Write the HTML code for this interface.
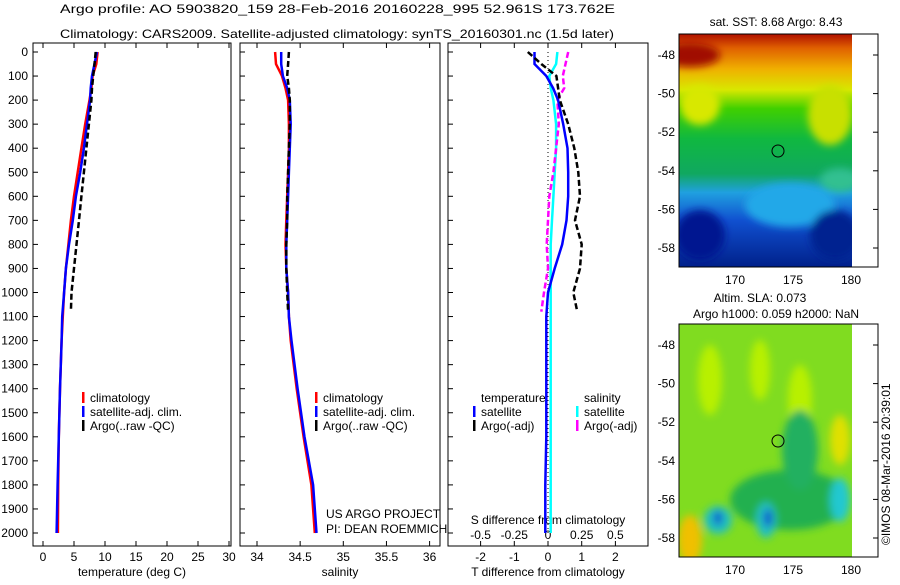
<!DOCTYPE html>
<html><head><meta charset="utf-8"><style>
body{margin:0;background:#fff;}
svg text{font-family:"Liberation Sans",sans-serif;font-size:12px;fill:#000;}
</style></head><body>
<svg id="fig" width="900" height="580" viewBox="0 0 900 580" xmlns="http://www.w3.org/2000/svg">
<defs>
<filter id="blur" x="-20%" y="-20%" width="140%" height="140%"><feGaussianBlur stdDeviation="4"/></filter>
<clipPath id="c1"><rect x="679" y="34" width="173" height="233"/></clipPath>
<clipPath id="c2"><rect x="679" y="324" width="173" height="233"/></clipPath>
<linearGradient id="sst" x1="0" y1="0" x2="0" y2="1">
<stop offset="0" stop-color="#b01000"/><stop offset="0.06" stop-color="#e06000"/><stop offset="0.15" stop-color="#f0b000"/><stop offset="0.24" stop-color="#d8e800"/><stop offset="0.32" stop-color="#40d000"/><stop offset="0.45" stop-color="#10b840"/><stop offset="0.6" stop-color="#10a860"/><stop offset="0.68" stop-color="#20a0e0"/><stop offset="0.8" stop-color="#1050d0"/><stop offset="1" stop-color="#00208a"/>
</linearGradient>
</defs>
<g>
<text x="60" y="13" font-size="13" textLength="555" lengthAdjust="spacingAndGlyphs">Argo profile: AO 5903820_159 28-Feb-2016 20160228_995 52.961S 173.762E</text>
<text x="60" y="38" font-size="13" textLength="554" lengthAdjust="spacingAndGlyphs">Climatology: CARS2009. Satellite-adjusted climatology: synTS_20160301.nc (1.5d later)</text>
</g>
<g id="axes"></g>
<g id="series"></g>
<g>
<g clip-path="url(#c1)">
<rect x="679" y="34" width="173" height="233" fill="url(#sst)"/>
<g filter="url(#blur)">
<ellipse cx="830" cy="115" rx="22" ry="30" fill="#c8e000"/>
<ellipse cx="700" cy="105" rx="20" ry="20" fill="#d8e800"/>
<ellipse cx="790" cy="205" rx="45" ry="22" fill="#20a8e8"/>
<ellipse cx="840" cy="180" rx="20" ry="12" fill="#30c090"/>
<ellipse cx="700" cy="235" rx="25" ry="25" fill="#001890"/>
<ellipse cx="835" cy="235" rx="25" ry="25" fill="#002090"/>
<ellipse cx="690" cy="55" rx="30" ry="12" fill="#a00800"/>
</g>
</g>
<rect x="679" y="34" width="199" height="233" fill="none" stroke="#000"/>
<circle cx="778" cy="151" r="6" fill="none" stroke="#000"/>
<text x="776" y="26" text-anchor="middle">sat. SST: 8.68 Argo: 8.43</text>
</g>
<g>
<g clip-path="url(#c2)">
<rect x="679" y="324" width="173" height="233" fill="#80dc20"/>
<g filter="url(#blur)">
<ellipse cx="710" cy="380" rx="12" ry="35" fill="#b8f000"/>
<ellipse cx="760" cy="370" rx="10" ry="30" fill="#b8f000"/>
<ellipse cx="800" cy="400" rx="12" ry="35" fill="#b8f000"/>
<ellipse cx="840" cy="440" rx="10" ry="25" fill="#e0e000"/>
<ellipse cx="690" cy="540" rx="12" ry="25" fill="#f0c000"/>
<ellipse cx="790" cy="500" rx="60" ry="30" fill="#20b050"/>
<ellipse cx="800" cy="450" rx="18" ry="40" fill="#20b060"/>
<ellipse cx="718" cy="520" rx="14" ry="14" fill="#20c0c0"/>
<ellipse cx="766" cy="520" rx="10" ry="18" fill="#20c0c0"/>
<ellipse cx="840" cy="500" rx="10" ry="22" fill="#20c8d0"/>
<ellipse cx="718" cy="518" rx="4" ry="7" fill="#1040d0"/>
<ellipse cx="768" cy="518" rx="4" ry="9" fill="#1040d0"/>
</g>
</g>
<rect x="679" y="324" width="199" height="233" fill="none" stroke="#000"/>
<circle cx="778" cy="441" r="6" fill="none" stroke="#000"/>
<text x="760" y="302" text-anchor="middle">Altim. SLA: 0.073</text>
<text x="776" y="318" text-anchor="middle">Argo h1000: 0.059 h2000: NaN</text>
</g>
<text transform="translate(890,545) rotate(-90)">©IMOS 08-Mar-2016 20:39:01</text>
<g>
<text x="326" y="518">US ARGO PROJECT</text>
<text x="326" y="533">PI: DEAN ROEMMICH</text>
</g>
</svg>
<script>
// depths (m)
const depths=[0,50,100,150,200,300,400,500,600,700,800,900,1000,1100,1200,1400,1600,1800,2000];
const argoDepths=[0,50,100,150,200,300,400,500,600,700,800,900,1000,1080];
// temperature (deg C)
const tempClim=[8.8,8.6,8.0,7.8,7.5,6.8,6.2,5.6,5.0,4.5,4.1,3.7,3.4,3.2,3.0,2.75,2.55,2.45,2.4];
const tempSat=[8.7,8.3,7.9,7.7,7.6,7.1,6.6,6.0,5.3,4.8,4.2,3.7,3.4,3.1,3.0,2.75,2.55,2.35,2.2];
const tempArgo=[8.5,8.3,8.1,7.9,7.8,7.4,7.0,6.6,6.2,5.8,5.4,5.0,4.6,4.5];
// salinity
const salClim=[34.21,34.22,34.29,34.33,34.36,34.37,34.37,34.36,34.35,34.34,34.33,34.34,34.36,34.37,34.39,34.46,34.54,34.63,34.67];
const salSat=[34.28,34.28,34.30,34.35,34.38,34.39,34.38,34.37,34.36,34.35,34.34,34.34,34.36,34.37,34.40,34.47,34.55,34.65,34.69];
const salArgo=[34.37,34.36,34.35,34.37,34.38,34.38,34.37,34.36,34.35,34.35,34.34,34.34,34.35,34.36];
// differences from climatology
const tDiffSat=[-0.4,-0.4,-0.05,0.15,0.3,0.45,0.58,0.6,0.6,0.55,0.42,0.2,0.0,-0.05,-0.05,-0.05,-0.05,-0.08,-0.08];
const tDiffArgo=[-0.6,-0.2,0.25,0.3,0.35,0.6,0.78,0.9,0.95,0.8,1.0,0.95,0.75,0.87];
const sDiffSat=[0.07,0.06,0.01,0.02,0.04,0.06,0.06,0.05,0.04,0.03,0.02,0.02,0.02,0.02,0.02,0.02,0.02,0.02,0.02];
const sDiffArgo=[0.15,0.13,0.11,0.12,0.07,0.08,0.06,0.04,0.01,0.0,-0.01,0.0,-0.03,-0.05];
// ticks
const depthTicks=[0,100,200,300,400,500,600,700,800,900,1000,1100,1200,1300,1400,1500,1600,1700,1800,1900,2000];
const tempTicks=[0,5,10,15,20,25,30];
const salTicks=[34,34.5,35,35.5,36];
const tDiffTicks=[-2,-1,0,1,2];
const sDiffTicks=[-0.5,-0.25,0,0.25,0.5];
const latTicks=[-48,-50,-52,-54,-56,-58];
const lonTicks=[170,175,180];

const NS='http://www.w3.org/2000/svg';
const axesG=document.getElementById('axes'), serG=document.getElementById('series');
function el(tag,attrs,parent,txt){const e=document.createElementNS(NS,tag);for(const k in attrs)e.setAttribute(k,attrs[k]);if(txt!==undefined)e.textContent=txt;parent.appendChild(e);return e;}
const yD=d=>52+d*0.2405;
const xT=v=>43+v*6.2;
const xS=v=>257+(v-34)*86.3;
const xTd=v=>548+v*33.7;
const xSd=v=>548+v*134.8;
const yLat=v=>55+(-48-v)*19.3;
const xLon=v=>735+(v-170)*11.6;

function panel(name,x0,x1,ticks,fx,label,ylabels){
  const g=el('g',{},axesG);
  
  
  el('rect',{x:x0,y:43,width:x1-x0,height:503,fill:'none',stroke:'#000'},g);
  depthTicks.forEach(d=>{
    el('line',{x1:x0,x2:x0+5,y1:yD(d),y2:yD(d),stroke:'#000'},g);
    if(ylabels){const t=el('text',{x:x0-5,y:yD(d)+4,'text-anchor':'end'},g,String(d));
      
      }
  });
  ticks.forEach(v=>{
    const x=fx(v);
    el('line',{x1:x,x2:x,y1:546,y2:541,stroke:'#000'},g);
    el('line',{x1:x,x2:x,y1:43,y2:48,stroke:'#000'},g);
    const t=el('text',{x:x,y:561,'text-anchor':'middle'},g,String(v));
    
    
  });
  const l=el('text',{x:(x0+x1)/2,y:576,'text-anchor':'middle'},g,label);
  
  
}
panel('temperature-panel',33,231,tempTicks,xT,'temperature (deg C)',true);
panel('salinity-panel',240,440,salTicks,xS,'salinity',false);
panel('difference-panel',448,648,tDiffTicks,xTd,'T difference from climatology',false);
sDiffTicks.forEach(v=>{
  const t=el('text',{x:xSd(v),y:539,'text-anchor':'middle'},axesG,String(v));
  
  
});
const st=el('text',{x:548,y:524,'text-anchor':'middle'},axesG,'S difference from climatology');


const zl=el('line',{x1:548,x2:548,y1:52,y2:533,stroke:'#000','stroke-dasharray':'1,3'},axesG);



function line(name,vals,ds,fx,color,dash){
  const pts=vals.map((v,i)=>fx(v).toFixed(1)+','+yD(ds[i]).toFixed(1)).join(' ');
  const p=el('polyline',{points:pts,fill:'none',stroke:color,'stroke-width':2.5,'stroke-dasharray':dash||'none'},serG);
  
  
}
line('temp-climatology',tempClim,depths,xT,'#f00');
line('temp-satellite-adj',tempSat,depths,xT,'#00f');
line('temp-argo',tempArgo,argoDepths,xT,'#000','6,3');
line('sal-climatology',salClim,depths,xS,'#f00');
line('sal-satellite-adj',salSat,depths,xS,'#00f');
line('sal-argo',salArgo,argoDepths,xS,'#000','6,3');
line('sdiff-satellite',sDiffSat,depths,xSd,'#0ff');
line('sdiff-argo',sDiffArgo,argoDepths,xSd,'#f0f','6,3');
line('tdiff-satellite',tDiffSat,depths,xTd,'#00f');
line('tdiff-argo',tDiffArgo,argoDepths,xTd,'#000','6,3');

function legend(x,y,items,name){
  const g=el('g',{},axesG);
  
  
  items.forEach((it,i)=>{
    if(it[1])el('rect',{x:x,y:y+i*14-10,width:2.5,height:11,fill:it[1]},g);
    el('text',{x:x+8,y:y+i*14},g,it[0]);
  });
}
legend(82,402,[['climatology','#f00'],['satellite-adj. clim.','#00f'],['Argo(..raw -QC)','#000']],'temperature-legend');
legend(315,402,[['climatology','#f00'],['satellite-adj. clim.','#00f'],['Argo(..raw -QC)','#000']],'salinity-legend');
legend(473,402,[['temperature',null],['satellite','#00f'],['Argo(-adj)','#000']],'tdiff-legend');
legend(576,402,[['salinity',null],['satellite','#0ff'],['Argo(-adj)','#f0f']],'sdiff-legend');

[0,290].forEach((off,mi)=>{
  const g=el('g',{},axesG);
  
  
  latTicks.forEach(v=>{
    const y=yLat(v)+off;
    el('line',{x1:679,x2:684,y1:y,y2:y,stroke:'#000'},g);
    el('line',{x1:878,x2:873,y1:y,y2:y,stroke:'#000'},g);
    el('text',{x:675,y:y+4,'text-anchor':'end'},g,String(v));
  });
  lonTicks.forEach(v=>{
    const x=xLon(v);
    el('line',{x1:x,x2:x,y1:34+off,y2:39+off,stroke:'#000'},g);
    el('line',{x1:x,x2:x,y1:267+off,y2:262+off,stroke:'#000'},g);
    el('text',{x:x,y:284+off,'text-anchor':'middle'},g,String(v));
  });
});
</script>
</body></html>
